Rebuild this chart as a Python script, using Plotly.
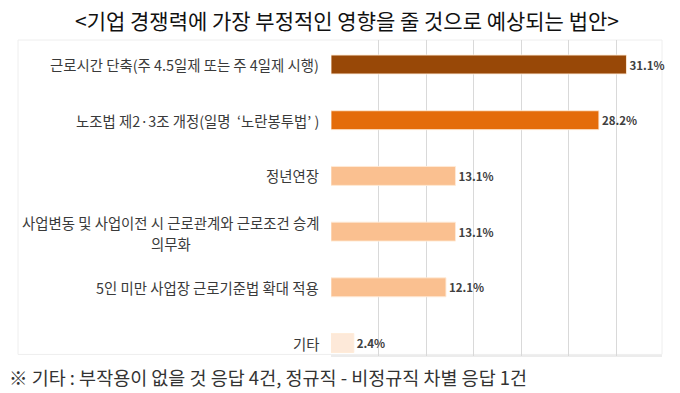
import plotly.graph_objects as go

categories = [
    "근로시간 단축(주 4.5일제 또는 주 4일제 시행)",
    "노조법 제2·3조 개정(일명  ‘노란봉투법’ )",
    "정년연장",
    "사업변동 및 사업이전 시 근로관계와 근로조건 승계",
    "5인 미만 사업장 근로기준법 확대 적용",
    "기타",
]
category_second_lines = ["", "", "", "의무화", "", ""]
values = [31.1, 28.2, 13.1, 13.1, 12.1, 2.4]
value_labels = ["31.1%", "28.2%", "13.1%", "13.1%", "12.1%", "2.4%"]
bar_colors = ["#984807", "#E46C0A", "#FAC090", "#FAC090", "#FAC090", "#FDE9D9"]

title_text = "<기업 경쟁력에 가장 부정적인 영향을 줄 것으로 예상되는 법안>"
footnote_text = "※ 기타 : 부작용이 없을 것 응답 4건, 정규직 - 비정규직 차별 응답 1건"

FONT = "Noto Sans CJK KR"
positions = list(range(len(categories)))

L, R, T, B = 331, 18, 40, 37
W, H = 680, 393
PW = W - L - R


def px_to_paper_x(px):
    return (px - L) / PW


fig = go.Figure()
fig.add_trace(go.Bar(
    x=values,
    y=positions,
    orientation="h",
    width=0.34,
    marker=dict(color=bar_colors, line=dict(color="rgba(255,235,215,0.9)", width=1)),
    text=value_labels,
    textposition="outside",
    cliponaxis=False,
    textfont=dict(family=FONT, size=11.5, color="#404040", weight="bold"),
    hoverinfo="skip",
))

for p, c, c2 in zip(positions, categories, category_second_lines):
    fig.add_annotation(
        x=0, y=p, xref="x", yref="y", text=c, showarrow=False,
        xanchor="right", yanchor="middle", xshift=-10,
        yshift=(9 if c2 else 0),
        font=dict(family=FONT, size=14.4, color="#3a3a3a"),
    )
    if c2:
        fig.add_annotation(
            x=0, y=p, xref="x", yref="y", text=c2, showarrow=False,
            xanchor="center", yanchor="middle", xshift=171 - L, yshift=-12,
            font=dict(family=FONT, size=14.4, color="#3a3a3a"),
        )

fig.add_annotation(
    x=px_to_paper_x(347), y=1, xref="paper", yref="paper", text=title_text,
    showarrow=False, xanchor="center", yanchor="middle", yshift=20,
    font=dict(family=FONT, size=21, color="#111111"),
)
fig.add_annotation(
    x=px_to_paper_x(7), y=0, xref="paper", yref="paper", text=footnote_text,
    showarrow=False, xanchor="left", yanchor="middle", yshift=-21,
    font=dict(family=FONT, size=18.5, color="#333333"),
)

# faint chart box
fig.add_shape(type="rect", xref="paper", yref="paper",
              x0=px_to_paper_x(18), x1=1.0, y0=0.005, y1=1.0,
              line=dict(color="#eeeeee", width=1), layer="below")

fig.update_layout(
    width=W, height=H,
    margin=dict(l=L, r=R, t=T, b=B),
    paper_bgcolor="white", plot_bgcolor="white",
    showlegend=False,
    xaxis=dict(range=[0, 34.84], dtick=5, tick0=0, showticklabels=False,
               showgrid=True, gridcolor="#d9d9d9", gridwidth=1,
               zeroline=False, showline=False, fixedrange=True),
    yaxis=dict(range=[5.233, -0.44], showticklabels=False, showgrid=False,
               zeroline=False, showline=False, fixedrange=True),
)
fig.add_shape(type="line", xref="paper", yref="paper", x0=0, x1=1, y0=0, y1=0,
              line=dict(color="#d9d9d9", width=1))

fig.write_html("out.html", config={"displayModeBar": False},
               post_script="document.body.style.margin='0';")
